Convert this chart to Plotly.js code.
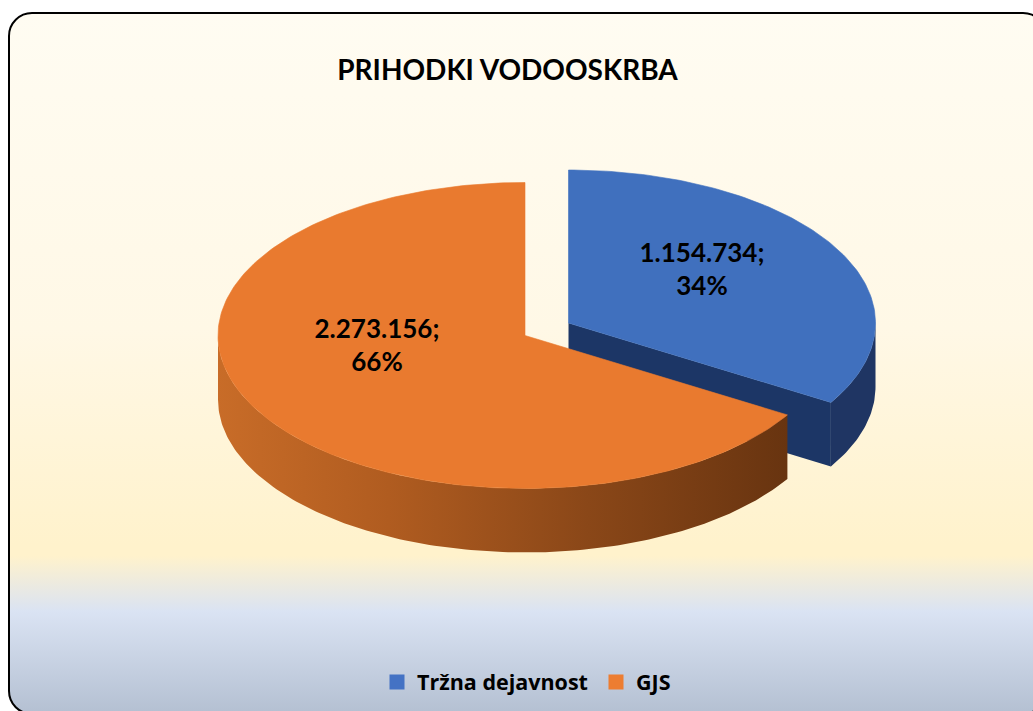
<!DOCTYPE html>
<html>
<head>
<meta charset="utf-8">
<script src="https://cdn.plot.ly/plotly-3.0.1.min.js"></script>
<style>
html,body{margin:0;padding:0;width:1033px;height:711px;overflow:hidden;background:#fff}
#box{position:absolute;left:8px;top:12px;width:1035px;height:699px;border:2px solid #000;border-radius:24px;
background:linear-gradient(to bottom,#FFFCF2 0%,#FFF8E6 45%,#FFF2CC 76%,#FFF2CC 77.5%,#DAE3F3 85.5%,#B4C0D2 100%)}
#chart{position:absolute;left:0;top:0;width:1033px;height:711px}
</style>
</head>
<body>
<div id="box"></div>
<div id="chart"></div>
<script>
const chartTitle = 'PRIHODKI VODOOSKRBA';
const categories = ['Tržna dejavnost', 'GJS'];
const values = [1154734, 2273156];
const valueLabels = ['1.154.734', '2.273.156'];
const percentLabels = ['34%', '66%'];
const topColors = ['#4070BE', '#E97A2F'];
const legendColors = ['#4472C4', '#ED7D31'];

// Drawing geometry of the tilted pie (in axis units, 1 unit = 1 px)
const RX = 307, RY = 153, DEPTH = 64;
const centers = [{x: 568.5, y: 323}, {x: 525, y: 335.5}];
const labelPos = [{x: 702, y: 272}, {x: 377, y: 348}];

const total = values.reduce((a, b) => a + b, 0);
const cuts = [0, values[0] / total * 360, 360];

function rim(c, a0, a1, dy) {
  const xs = [], ys = [];
  const n = Math.max(2, Math.ceil(Math.abs(a1 - a0)));
  for (let i = 0; i <= n; i++) {
    const t = (a0 + (a1 - a0) * i / n) * Math.PI / 180;
    xs.push(c.x + RX * Math.sin(t));
    ys.push(c.y - RY * Math.cos(t) + (dy || 0));
  }
  return {xs, ys};
}
function poly(xs, ys, color, extra) {
  return Object.assign({
    type: 'scatter', mode: 'lines', x: xs, y: ys, fill: 'toself', fillcolor: color,
    line: {width: 0, color: color}, hoverinfo: 'skip', showlegend: false
  }, extra || {});
}
function sidewall(c, a0, a1, color, extra) {
  const top = rim(c, a0, a1, 0), bot = rim(c, a1, a0, DEPTH);
  return poly(top.xs.concat(bot.xs), top.ys.concat(bot.ys), color, extra);
}
function topFace(c, a0, a1, color) {
  const r = rim(c, a0, a1, 0);
  return poly([c.x].concat(r.xs, [c.x]), [c.y].concat(r.ys, [c.y]), color, {line: {width: 0.6, color: color}});
}

const [bc, oc] = centers;
const cutT = cuts[1] * Math.PI / 180;
const bEnd = {x: bc.x + RX * Math.sin(cutT), y: bc.y - RY * Math.cos(cutT)};

const traces = [
  // blue slice: outer wall, cut wall, top
  sidewall(bc, 90, cuts[1], '#1F3563'),
  poly([bc.x, bEnd.x, bEnd.x, bc.x, bc.x], [bc.y, bEnd.y, bEnd.y + DEPTH, bc.y + DEPTH, bc.y], '#1C3666'),
  topFace(bc, cuts[0], cuts[1], topColors[0]),
  // orange slice: outer wall with a shading gradient, top
  sidewall(oc, cuts[1], 270, '#A8561F', {
    fillgradient: {type: 'horizontal', start: oc.x - RX, stop: oc.x + RX * Math.sin(cutT),
      colorscale: [[0, '#C86C28'], [0.3, '#B05C20'], [0.65, '#8A4718'], [1, '#683410']]}
  }),
  topFace(oc, cuts[1], cuts[2], topColors[1]),
  // data labels
  {type: 'scatter', mode: 'text', x: labelPos.map(p => p.x), y: labelPos.map(p => p.y),
   text: values.map((v, i) => valueLabels[i] + ';<br>' + percentLabels[i]),
   textposition: 'middle center', hoverinfo: 'skip', showlegend: false,
   textfont: {family: 'Lato, sans-serif', size: 26, color: '#000', weight: 700}}
];
// legend entries
categories.forEach((name, i) => traces.push({
  type: 'scatter', mode: 'markers', x: [null], y: [null], name: name,
  marker: {symbol: 'square', size: 15, color: legendColors[i]}, hoverinfo: 'skip'
}));

Plotly.newPlot('chart', traces, {
  width: 1033, height: 711,
  margin: {l: 0, r: 0, t: 0, b: 0},
  paper_bgcolor: 'rgba(0,0,0,0)', plot_bgcolor: 'rgba(0,0,0,0)',
  xaxis: {range: [0, 1033], visible: false, fixedrange: true},
  yaxis: {range: [711, 0], visible: false, fixedrange: true},
  title: {text: chartTitle, x: 507.5 / 1033, xanchor: 'center', y: 1 - 70 / 711, yanchor: 'middle',
          font: {family: 'Lato, sans-serif', size: 28, color: '#000', weight: 700}},
  legend: {orientation: 'h', x: 377 / 1033, xanchor: 'left', y: 1 - 682 / 711, yanchor: 'middle',
           bgcolor: 'rgba(0,0,0,0)', font: {family: '"Open Sans", sans-serif', size: 21.5, color: '#000', weight: 700},
           itemwidth: 30, entrywidth: 174, entrywidthmode: 'pixels', itemclick: false, itemdoubleclick: false}
}, {displayModeBar: false, staticPlot: true});
</script>
</body>
</html>
